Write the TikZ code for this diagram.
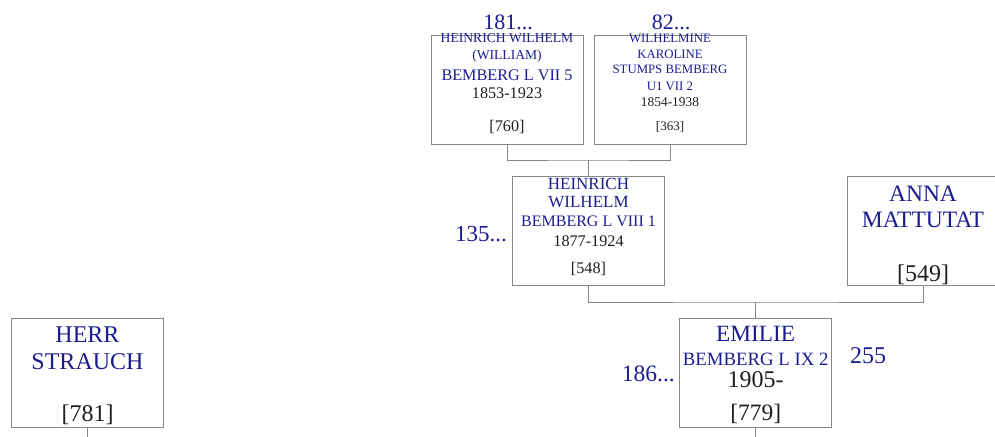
\documentclass[tikz,border=0pt]{standalone}
\usepackage{fontspec}
\setmainfont{Liberation Serif}
\definecolor{navy}{RGB}{28,28,145}
\definecolor{txtblack}{RGB}{30,30,30}
\definecolor{boxgray}{RGB}{135,135,135}
\newcommand\fsz[1]{\fontsize{#1}{#1}\selectfont}
\begin{document}
\begin{tikzpicture}[x=1pt,y=-1pt,
  box/.style={draw=boxgray,line width=0.9pt,minimum width=152pt,minimum height=109pt,inner sep=0pt},
  link/.style={draw=boxgray,line width=0.9pt},
  nm/.style={text=navy,anchor=base,inner sep=0pt},
  dt/.style={text=txtblack,anchor=base,inner sep=0pt}]
\useasboundingbox (0,0) rectangle (995,436);

% boxes
\node[box] (b1) at (507,90) {};
\node[box] (b2) at (670,90) {};
\node[box] (b3) at (588.5,231.3) {};
\node[box] (b4) at (923,231.3) {};
\node[box] (b5) at (755.7,372.8) {};
\node[box] (b6) at (87.5,372.8) {};

% connectors
\coordinate (j1) at (588.5,160);
\coordinate (j2) at (755.7,302);
\coordinate (e5) at (755.7,440);
\coordinate (e6) at (87.5,440);
\draw[link] (b1.south) |- (j1) -| (b2.south);
\draw[link] (j1) -- (b3.north);
\draw[link] (b3.south) |- (j2) -| (b4.south);
\draw[link] (j2) -- (b5.north);
\draw[link] (b5.south) -- (e5);
\draw[link] (b6.south) -- (e6);

% outside numbers
\node[nm,font=\fsz{22}] (n181) at (508,30) {181...};
\node[nm,font=\fsz{22}] (n82) at (671,30) {82...};
\node[nm,font=\fsz{23},anchor=base east] (n135) at (507,241) {135...};
\node[nm,font=\fsz{23.5},anchor=base east] (n186) at (675,381.7) {186...};
\node[nm,font=\fsz{24},anchor=base west] (n255) at (850,363.3) {255};

% box 1
\node[nm,font=\fsz{13.6}] (t1a) at (507,43) {HEINRICH WILHELM};
\node[nm,font=\fsz{13.6}] (t1b) at (507,59.5) {(WILLIAM)};
\node[nm,font=\fsz{16.2}] (t1c) at (507,80) {BEMBERG L VII 5};
\node[dt,font=\fsz{16.2}] (t1d) at (507,98.3) {1853-1923};
\node[dt,font=\fsz{16.2}] (t1e) at (507,131.7) {[760]};

% box 2
\node[nm,font=\fsz{12.8}] (t2a) at (670,42.3) {WILHELMINE};
\node[nm,font=\fsz{12.8}] (t2b) at (670,58.3) {KAROLINE};
\node[nm,font=\fsz{12.8}] (t2c) at (670,74) {STUMPS BEMBERG};
\node[nm,font=\fsz{12.8}] (t2d) at (670,90) {U1 VII 2};
\node[dt,font=\fsz{13.4}] (t2e) at (670,106) {1854-1938};
\node[dt,font=\fsz{13}] (t2f) at (670,130) {[363]};

% box 3
\node[nm,font=\fsz{17}] (t3a) at (588.5,189.3) {HEINRICH};
\node[nm,font=\fsz{17}] (t3b) at (588.5,207.7) {WILHELM};
\node[nm,font=\fsz{16}] (t3c) at (588.5,226.7) {BEMBERG L VIII 1};
\node[dt,font=\fsz{16.2}] (t3d) at (588.5,246) {1877-1924};
\node[dt,font=\fsz{16.2}] (t3e) at (588.5,273) {[548]};

% box 4
\node[nm,font=\fsz{23.5}] (t4a) at (923,201.7) {ANNA};
\node[nm,font=\fsz{23.5}] (t4b) at (923,227.3) {MATTUTAT};
\node[dt,font=\fsz{24}] (t4c) at (923,281.7) {[549]};

% box 5
\node[nm,font=\fsz{23.3}] (t5a) at (755.7,341.7) {EMILIE};
\node[nm,font=\fsz{18.8}] (t5b) at (755.7,365) {BEMBERG L IX 2};
\node[dt,font=\fsz{24}] (t5c) at (755.7,387.3) {1905-};
\node[dt,font=\fsz{23.5}] (t5d) at (755.7,420.7) {[779]};

% box 6
\node[nm,font=\fsz{24}] (t6a) at (87.5,342.3) {HERR};
\node[nm,font=\fsz{24}] (t6b) at (87.5,369) {STRAUCH};
\node[dt,font=\fsz{24}] (t6c) at (87.5,421.7) {[781]};
\end{tikzpicture}
\end{document}
